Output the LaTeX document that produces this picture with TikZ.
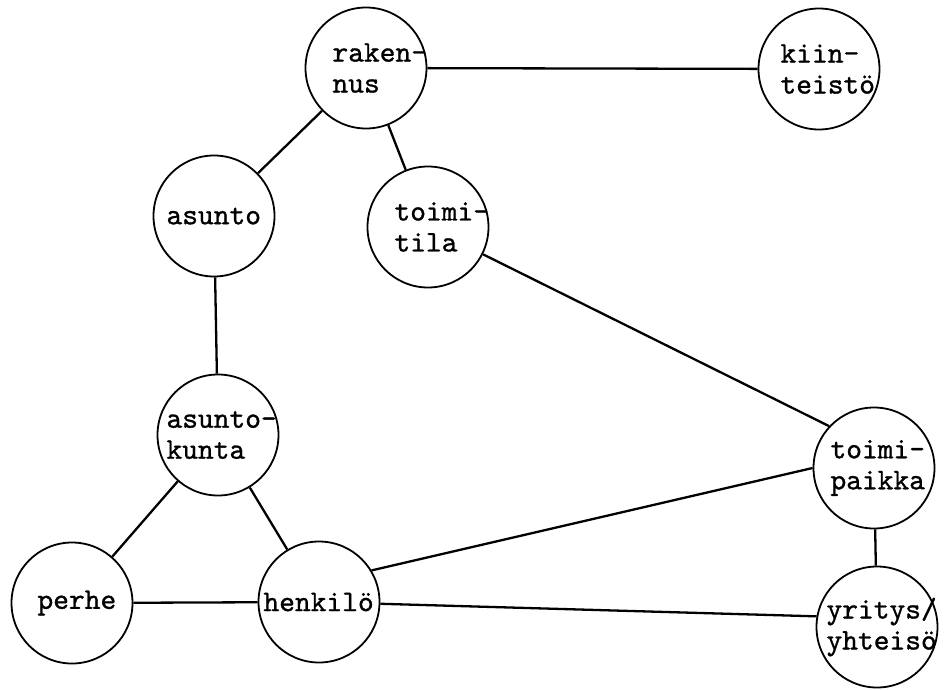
\documentclass[tikz,border=0pt]{standalone}
\usepackage{fontspec}
\setmonofont{lmmono10-regular.otf}[FakeBold=1.0]
\usepackage{tikz}
\usetikzlibrary{positioning}

\begin{document}
\begin{tikzpicture}[x=1pt, y=-1pt,
    ent/.style={draw=black, circle, minimum size=121pt, inner sep=0pt, line width=1.8pt,
        text width=#1, align=left, font=\ttfamily\fontsize{30}{31}\selectfont,
        execute at begin node={\hyphenpenalty=10000 \exhyphenpenalty=10000 }},
    ent/.default=95pt,
    rel/.style={line width=2.3pt}]
    \useasboundingbox (0,0) rectangle (948,689);
    % entities
    \node[ent=67pt] (rak) at (366,68) {raken-\\nus};
    \node[ent=77pt] (kii) at (819,69) {kiin-\\teistö};
    \node[ent=95pt] (asu) at (214,216) {asunto};
    \node[ent=67pt] (toi) at (428,227) {toimi-\\tila};
    \node[ent=103pt] (ask) at (218,435) {asunto-\\kunta};
    \node[ent=87pt] (tpa) at (874,468) {toimi-\\paikka};
    \node[ent=69pt] (per) at (72,603) {perhe};
    \node[ent=111pt] (hen) at (319,602) {henkilö};
    \node[ent=101pt] (yri) at (877,627) {yritys/\\yhteisö};
    % relations
    \draw[rel] (rak) -- (kii);
    \draw[rel] (rak) -- (asu);
    \draw[rel] (rak) -- (toi);
    \draw[rel] (asu) -- (ask);
    \draw[rel] (toi) -- (tpa.137);
    \draw[rel] (ask) -- (per);
    \draw[rel] (ask) -- (hen);
    \draw[rel] (per) -- (hen);
    \draw[rel] (hen.31) -- (tpa.180);
    \draw[rel] (hen) -- (yri.170);
    \draw[rel] (tpa) -- (yri);
\end{tikzpicture}
\end{document}
